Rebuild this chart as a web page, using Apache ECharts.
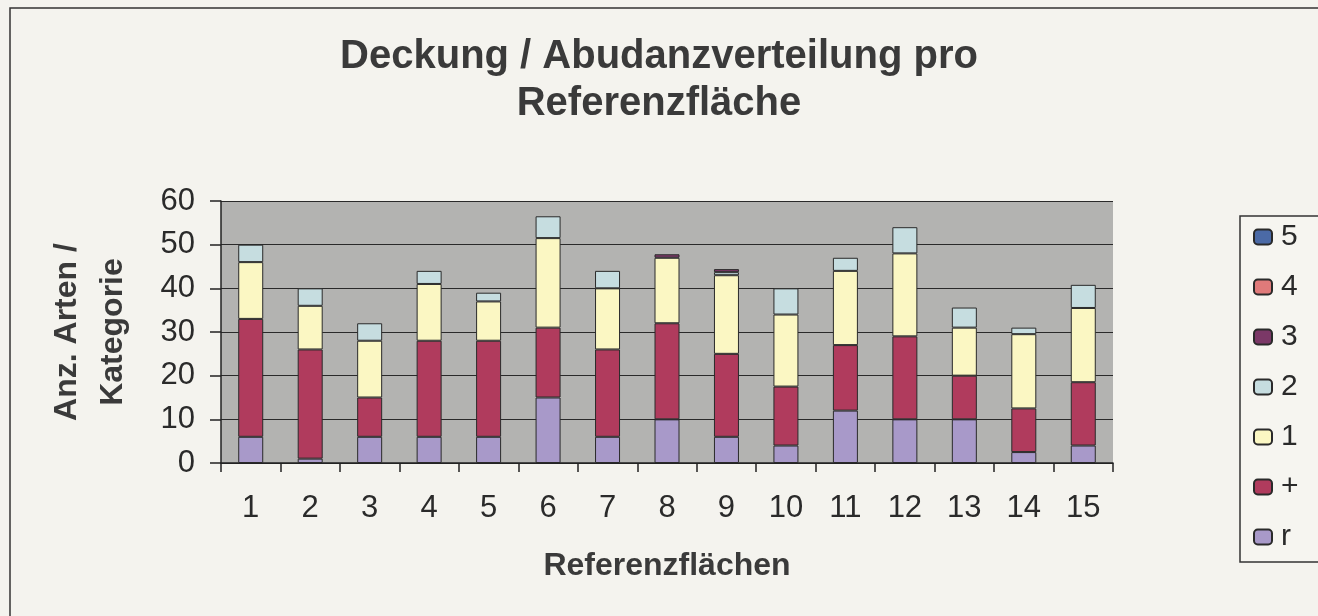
<!DOCTYPE html>
<html>
<head>
<meta charset="utf-8">
<script src="https://cdn.jsdelivr.net/npm/echarts@6/dist/echarts.min.js"></script>
<style>
html,body{margin:0;padding:0;background:#f4f3ee;}
#c{width:1318px;height:616px;}
</style>
</head>
<body>
<div id="c"></div>
<script>
const categories = ['1','2','3','4','5','6','7','8','9','10','11','12','13','14','15'];
const seriesNames = ['r','+','1','2','3','4','5'];
const valsR    = [6, 1, 6, 6, 6, 15, 6, 10, 6, 4, 12, 10, 10, 2.5, 4];
const valsPlus = [27, 25, 9, 22, 22, 16, 20, 22, 19, 13.5, 15, 19, 10, 10, 14.5];
const vals1    = [13, 10, 13, 13, 9, 20.5, 14, 15, 18, 16.5, 17, 19, 11, 17, 17];
const vals2    = [4, 4, 4, 3, 2, 5, 4, null, 0.7, 6, 3, 6, 4.6, 1.5, 5.3];
const vals3    = [null, null, null, null, null, null, null, 0.8, 0.7, null, null, null, null, null, null];
const vals4    = [null, null, null, null, null, null, null, null, null, null, null, null, null, null, null];
const vals5    = [null, null, null, null, null, null, null, null, null, null, null, null, null, null, null];
const yTicks = [0, 10, 20, 30, 40, 50, 60];
const legendOrder = ['5','4','3','2','1','+','r'];

const colors = {'r':'#a899c9','+':'#b03b5d','1':'#fbf7c3','2':'#c6dde0','3':'#7b3867','4':'#e07a7a','5':'#4b6aa6'};
const dataMap = {'r':valsR,'+':valsPlus,'1':vals1,'2':vals2,'3':vals3,'4':vals4,'5':vals5};

const FONT = 'Liberation Sans, Arial, sans-serif';
const chart = echarts.init(document.getElementById('c'));
chart.setOption({
  backgroundColor: '#f4f3ee',
  animation: false,
  title: {
    text: 'Deckung / Abudanzverteilung pro\nReferenzfläche',
    left: 'center',
    top: 28,
    textStyle: {fontFamily: FONT, fontSize: 40, fontWeight: 'bold', color: '#3a3a3a', lineHeight: 47}
  },
  graphic: [{
    type: 'rect', silent: true, z: -1,
    shape: {x: 10, y: 8, width: 1400, height: 700},
    style: {fill: 'none', stroke: '#333', lineWidth: 1.5}
  }],
  legend: {
    orient: 'vertical',
    left: 1240,
    top: 216,
    data: legendOrder,
    itemWidth: 18,
    itemHeight: 15,
    itemGap: 20,
    padding: [6, 30, 10, 13],
    borderColor: '#333',
    borderWidth: 1.5,
    backgroundColor: '#f6f5f0',
    textStyle: {fontFamily: FONT, fontSize: 30, color: '#2a2a2a', padding: [0,0,0,4]}
  },
  grid: {
    left: 221, right: 205, top: 201, bottom: 153,
    show: true, backgroundColor: '#b3b3b1', borderWidth: 0
  },
  xAxis: {
    type: 'category',
    data: categories,
    name: 'Referenzflächen',
    nameLocation: 'middle',
    nameGap: 87,
    nameTextStyle: {fontFamily: FONT, fontSize: 32, fontWeight: 'bold', color: '#3a3a3a'},
    axisLine: {lineStyle: {color: '#222', width: 1.5}},
    axisTick: {show: true, length: 9, lineStyle: {color: '#222', width: 1.5}},
    axisLabel: {fontFamily: FONT, fontSize: 31, color: '#2a2a2a', margin: 30}
  },
  yAxis: {
    type: 'value',
    min: 0, max: 60, interval: 10,
    name: 'Anz. Arten /\nKategorie',
    nameLocation: 'middle',
    nameGap: 85,
    nameTextStyle: {fontFamily: FONT, fontSize: 32, fontWeight: 'bold', color: '#3a3a3a', lineHeight: 46},
    axisLine: {show: true, lineStyle: {color: '#222', width: 1.5}},
    axisTick: {show: true, length: 11, lineStyle: {color: '#222', width: 1.5}},
    splitLine: {show: true, lineStyle: {color: '#2a2a2a', width: 1.2}},
    axisLabel: {fontFamily: FONT, fontSize: 31, color: '#2a2a2a', margin: 26,
      formatter: v => yTicks.indexOf(v) >= 0 ? String(v) : ''}
  },
  series: seriesNames.map(n => ({
    name: n,
    type: 'bar',
    stack: 'total',
    barWidth: 25,
    data: dataMap[n],
    itemStyle: {color: colors[n], borderColor: '#2a2a2a', borderWidth: 1}
  }))
});
</script>
</body>
</html>
